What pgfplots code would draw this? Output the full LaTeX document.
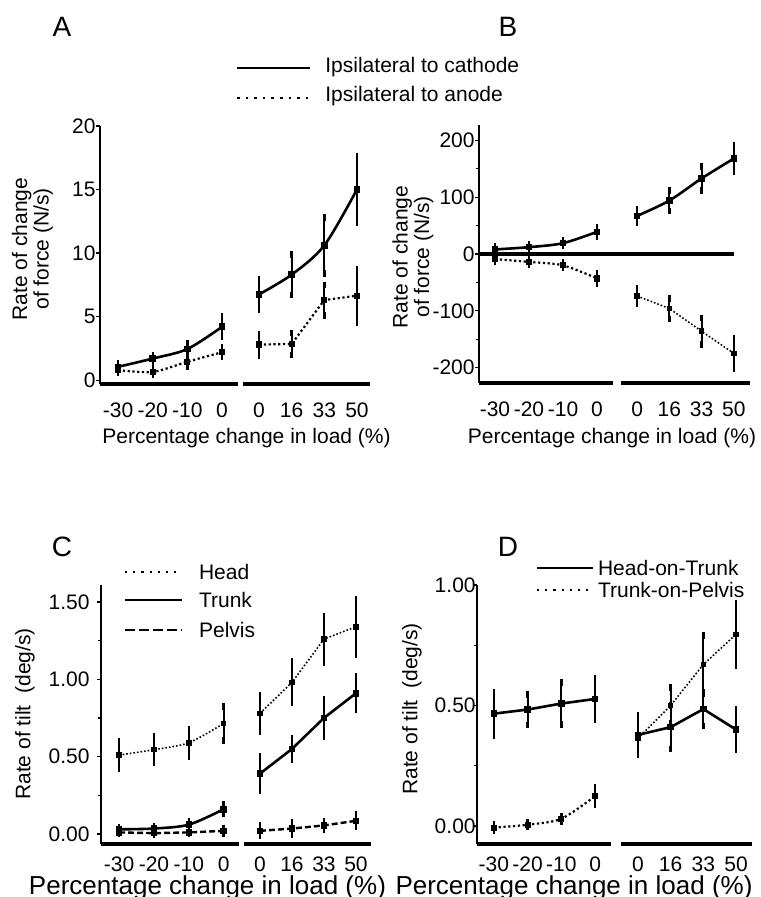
\documentclass[border=0pt]{standalone}
\usepackage{fontspec}
\setmainfont{Liberation Sans}
\usepackage{pgfplots}
\pgfplotsset{compat=1.18}

\pgfplotsset{
  base/.style={scale only axis, clip=false, anchor=south west,
    font=\fontsize{10.5}{12}\selectfont,
    axis x line*=bottom,
    x axis line style={line width=1.6pt, -},
    xtick={0,1,2,3}, xtick style={draw=none},
    tick align=outside, major tick length=2pt, minor tick length=1.5pt,
    xticklabel style={inner sep=0pt, anchor=north, yshift=-7pt},
  },
  leftpart/.style={base, axis y line*=left,
    y axis line style={line width=0.6pt, -},
    ytick style={line width=0.6pt, black},
    yticklabel style={inner xsep=0pt},
    xticklabels={-30,-20,-10,0}},
  rightpart/.style={base, hide y axis, xticklabels={0,16,33,50}},
  eb/.style={error bars/y dir=both, error bars/y explicit,
    error bars/error bar style={line width=0.9pt, solid},
    error bars/error mark options={line width=1.2pt, mark size=1.6pt, solid}},
  solidser/.style={black, line width=1.3pt, mark=square*, mark size=1pt,
    mark options={solid}, eb},
  dotser/.style={black, line width=1.1pt, dash pattern=on 1.1pt off 1.3pt,
    mark=square*, mark size=1pt, mark options={solid}, eb},
  thindot/.style={black, line width=0.8pt, dash pattern=on 0.8pt off 1pt,
    mark=square*, mark size=1pt, mark options={solid}, eb},
  dashser/.style={black, line width=1.2pt, dash pattern=on 3pt off 1.5pt,
    mark=square*, mark size=1pt, mark options={solid}, eb},
}

\begin{document}
\begin{tikzpicture}
\useasboundingbox (0,0) rectangle (380pt,448.5pt);

% ---------------- panel A ----------------
\begin{axis}[leftpart, at={(50pt,256.5pt)}, width=69pt, height=129pt,
  xmin=-0.52, xmax=3.46, ymin=-0.3, ymax=20,
  ytick={0,5,10,15,20}, yticklabels={0,5,10,15,20}]
\addplot[solidser, smooth] coordinates {
  (0,1.05) +- (0,0.25) (1,1.7) +- (0,0.3) (2,2.45) +- (0,0.45) (3,4.2) +- (0,0.8)};
\addplot[dotser, smooth] coordinates {
  (0,0.8) +- (0,0.2) (1,0.65) +- (0,0.2) (2,1.45) +- (0,0.4) (3,2.2) +- (0,0.4)};
\end{axis}
\begin{axis}[rightpart, at={(121.5pt,256.5pt)}, width=63.5pt, height=129pt,
  xmin=-0.49, xmax=3.40, ymin=-0.3, ymax=20]
\addplot[solidser, smooth] coordinates {
  (0,6.75) +- (0,1.2) (1,8.3) +- (0,1.6) (2,10.6) +- (0,2.2) (3,15.0) +- (0,2.6)};
\addplot[dotser] coordinates {
  (0,2.8) +- (0,0.85) (1,2.85) +- (0,0.85) (2,6.3) +- (0,1.2) (3,6.65) +- (0,2.1)};
\end{axis}

% ---------------- panel B ----------------
\begin{axis}[leftpart, at={(239.5pt,257pt)}, width=67pt, height=129pt,
  xmin=-0.47, xmax=3.47, ymin=-227, ymax=227,
  ytick={-200,-100,0,100,200}, yticklabels={-200,-100,0,100,200},
  minor ytick={-150,-50,50,150}]
\addplot[black, line width=1.6pt, mark=none] coordinates {(-0.47,0) (7.03,0)};
\addplot[solidser, smooth] coordinates {
  (0,8) +- (0,5) (1,12) +- (0,5) (2,19) +- (0,5) (3,39) +- (0,9)};
\addplot[dotser, smooth] coordinates {
  (0,-9) +- (0,5) (1,-14) +- (0,5) (2,-20) +- (0,5) (3,-43) +- (0,10)};
\end{axis}
\begin{axis}[rightpart, at={(310.5pt,257pt)}, width=64.5pt, height=129pt,
  xmin=-0.5, xmax=3.5, ymin=-227, ymax=227]
\addplot[solidser, smooth] coordinates {
  (0,67) +- (0,12) (1,94) +- (0,18) (2,133) +- (0,21) (3,168) +- (0,24)};
\addplot[thindot] coordinates {
  (0,-74) +- (0,13) (1,-96) +- (0,18) (2,-136) +- (0,23) (3,-175) +- (0,27)};
\end{axis}

% ---------------- panel C ----------------
\begin{axis}[leftpart, at={(50.5pt,26.5pt)}, width=69pt, height=129.5pt,
  xmin=-0.52, xmax=3.44, ymin=-0.065, ymax=1.61,
  xticklabel style={yshift=3pt}, yticklabel style={xshift=-3.5pt},
  ytick={0,0.5,1,1.5}, yticklabels={0.00,0.50,1.00,1.50},
  minor ytick={0.25,0.75,1.25}]
\addplot[thindot, smooth] coordinates {
  (0,0.51) +- (0,0.09) (1,0.545) +- (0,0.085) (2,0.59) +- (0,0.09) (3,0.715) +- (0,0.11)};
\addplot[solidser, smooth] coordinates {
  (0,0.03) +- (0,0.015) (1,0.035) +- (0,0.015) (2,0.06) +- (0,0.02) (3,0.16) +- (0,0.03)};
\addplot[dashser] coordinates {
  (0,0.01) +- (0,0.01) (1,0.005) +- (0,0.01) (2,0.01) +- (0,0.01) (3,0.02) +- (0,0.02)};
\end{axis}
\begin{axis}[rightpart, at={(122pt,26.5pt)}, width=63.5pt, height=129.5pt,
  xmin=-0.5, xmax=3.47, ymin=-0.065, ymax=1.61,
  xticklabel style={yshift=3pt}]
\addplot[thindot] coordinates {
  (0,0.78) +- (0,0.12) (1,0.98) +- (0,0.135) (2,1.26) +- (0,0.15) (3,1.34) +- (0,0.18)};
\addplot[solidser] coordinates {
  (0,0.39) +- (0,0.11) (1,0.55) +- (0,0.07) (2,0.75) +- (0,0.12) (3,0.91) +- (0,0.11)};
\addplot[dashser] coordinates {
  (0,0.02) +- (0,0.035) (1,0.035) +- (0,0.04) (2,0.055) +- (0,0.03) (3,0.085) +- (0,0.04)};
\end{axis}

% ---------------- panel D ----------------
\begin{axis}[leftpart, at={(238.5pt,26.5pt)}, width=67pt, height=129.5pt,
  xmin=-0.5, xmax=3.47, ymin=-0.075, ymax=1.0,
  xticklabel style={yshift=3pt}, yticklabel style={xshift=1.5pt},
  ytick={0,0.5,1}, yticklabels={0.00,0.50,1.00},
  minor ytick={0.25,0.75}]
\addplot[solidser] coordinates {
  (0,0.466) +- (0,0.09) (1,0.483) +- (0,0.063) (2,0.508) +- (0,0.087) (3,0.527) +- (0,0.085)};
\addplot[dotser, smooth] coordinates {
  (0,-0.007) +- (0,0.015) (1,0.005) +- (0,0.01) (2,0.03) +- (0,0.012) (3,0.124) +- (0,0.035)};
\end{axis}
\begin{axis}[rightpart, at={(310.5pt,26.5pt)}, width=65.5pt, height=129.5pt,
  xmin=-0.52, xmax=3.49, ymin=-0.075, ymax=1.0,
  xticklabel style={yshift=3pt}]
\addplot[solidser] coordinates {
  (0,0.378) +- (0,0.08) (1,0.41) +- (0,0.09) (2,0.485) +- (0,0.07) (3,0.40) +- (0,0.085)};
\addplot[thindot] coordinates {
  (0,0.364) +- (0,0.07) (1,0.5) +- (0,0.075) (2,0.67) +- (0,0.12) (3,0.795) +- (0,0.13)};
\end{axis}

% ---------------- text ----------------
\begin{scope}[font=\fontsize{14}{16}\selectfont, inner sep=0pt]
\node[anchor=base] at (31pt,430pt) {A};
\node[anchor=base] at (254pt,430pt) {B};
\node[anchor=base] at (31pt,170pt) {C};
\node[anchor=base] at (254pt,170pt) {D};
\end{scope}

\begin{scope}[font=\fontsize{10.5}{12}\selectfont]
\draw[line width=1.3pt] (118.5pt,414.5pt) -- (155pt,414.5pt);
\node[anchor=base west, inner sep=0pt] at (162.5pt,412pt) {Ipsilateral to cathode};
\draw[line width=1.3pt, dash pattern=on 1.3pt off 3pt] (118.5pt,399.5pt) -- (155pt,399.5pt);
\node[anchor=base west, inner sep=0pt] at (162.5pt,397.6pt) {Ipsilateral to anode};

\node[rotate=90, align=center, font=\fontsize{10.5}{8.5}\selectfont] at (16.25pt,324pt)
  {Rate of change\\of force (N/s)};
\node[rotate=90, align=center, font=\fontsize{10.5}{8.5}\selectfont] at (206.5pt,320pt)
  {Rate of change\\of force (N/s)};
\node[anchor=base] at (123.25pt,226.5pt) {Percentage change in load (\%)};
\node[anchor=base] at (306pt,226.5pt) {Percentage change in load (\%)};

\draw[line width=1.1pt, dash pattern=on 1.1pt off 3pt] (62.5pt,162.5pt) -- (91pt,162.5pt);
\node[anchor=west] at (96pt,162.5pt) {Head};
\draw[line width=1.3pt] (62.5pt,148.5pt) -- (91pt,148.5pt);
\node[anchor=west] at (96pt,148.5pt) {Trunk};
\draw[line width=1.2pt, dash pattern=on 5pt off 2pt] (62.5pt,133.5pt) -- (91pt,133.5pt);
\node[anchor=west] at (96pt,133.5pt) {Pelvis};

\draw[line width=1.3pt] (268.5pt,164.5pt) -- (296.5pt,164.5pt);
\node[anchor=west] at (295.5pt,164.5pt) {Head-on-Trunk};
\draw[line width=1.1pt, dash pattern=on 1.1pt off 3pt] (268.5pt,153.5pt) -- (296.5pt,153.5pt);
\node[anchor=west] at (295.5pt,153.5pt) {Trunk-on-Pelvis};

\node[rotate=90] at (12.5pt,91.5pt) {Rate of tilt\ \ (deg/s)};
\node[rotate=90] at (206pt,94pt) {Rate of tilt\ \ (deg/s)};
\end{scope}
\node[anchor=base, font=\fontsize{13}{15}\selectfont] at (103.75pt,1.5pt) {Percentage change in load (\%)};
\node[anchor=base, font=\fontsize{13}{15}\selectfont] at (287pt,1.5pt) {Percentage change in load (\%)};
\end{tikzpicture}
\end{document}
